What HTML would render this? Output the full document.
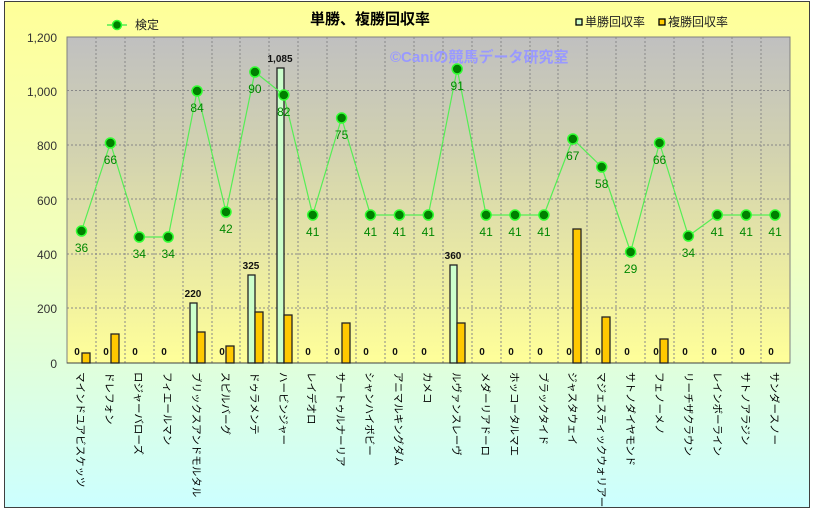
<!DOCTYPE html>
<html><head><meta charset="utf-8"><style>
html,body{margin:0;padding:0;background:#fff;}
svg{display:block;font-family:"Liberation Sans","Noto Sans CJK JP",sans-serif;}
</style></head><body>
<svg width="814" height="509" viewBox="0 0 814 509" xmlns="http://www.w3.org/2000/svg">
<defs>
<linearGradient id="outer" x1="0" y1="0" x2="0" y2="1"><stop offset="0" stop-color="#ffff99"/><stop offset="0.5" stop-color="#f0ffc0"/><stop offset="1" stop-color="#ccffff"/></linearGradient>
<linearGradient id="plot" x1="0" y1="0" x2="0" y2="1"><stop offset="0" stop-color="#c0c0c0"/><stop offset="0.35" stop-color="#d2d2b0"/><stop offset="1" stop-color="#ffff99"/></linearGradient>
</defs>
<rect x="4.5" y="1.5" width="805" height="506" fill="url(#outer)" stroke="#404040" stroke-width="1"/>
<rect x="67" y="37" width="723" height="326" fill="url(#plot)" stroke="#808080"/>
<g stroke="#888" stroke-dasharray="2,2" stroke-width="1">
<line x1="67" y1="90.5" x2="790" y2="90.5"/><line x1="67" y1="145" x2="790" y2="145"/><line x1="67" y1="199" x2="790" y2="199"/><line x1="67" y1="254" x2="790" y2="254"/><line x1="67" y1="308" x2="790" y2="308"/>
<line x1="96" y1="37" x2="96" y2="363"/><line x1="125" y1="37" x2="125" y2="363"/><line x1="154" y1="37" x2="154" y2="363"/><line x1="183" y1="37" x2="183" y2="363"/><line x1="212" y1="37" x2="212" y2="363"/><line x1="240" y1="37" x2="240" y2="363"/><line x1="269" y1="37" x2="269" y2="363"/><line x1="298" y1="37" x2="298" y2="363"/><line x1="327" y1="37" x2="327" y2="363"/><line x1="356" y1="37" x2="356" y2="363"/><line x1="385" y1="37" x2="385" y2="363"/><line x1="414" y1="37" x2="414" y2="363"/><line x1="443" y1="37" x2="443" y2="363"/><line x1="472" y1="37" x2="472" y2="363"/><line x1="501" y1="37" x2="501" y2="363"/><line x1="530" y1="37" x2="530" y2="363"/><line x1="558" y1="37" x2="558" y2="363"/><line x1="587" y1="37" x2="587" y2="363"/><line x1="616" y1="37" x2="616" y2="363"/><line x1="645" y1="37" x2="645" y2="363"/><line x1="674" y1="37" x2="674" y2="363"/><line x1="703" y1="37" x2="703" y2="363"/><line x1="732" y1="37" x2="732" y2="363"/><line x1="761" y1="37" x2="761" y2="363"/>
</g>
<line x1="67" y1="363" x2="790" y2="363" stroke="#404040"/>
<g font-size="12" fill="#333" text-anchor="end">
<text x="57" y="42">1,200</text><text x="57" y="96">1,000</text><text x="57" y="150">800</text><text x="57" y="205">600</text><text x="57" y="259">400</text><text x="57" y="313">200</text><text x="57" y="368">0</text>
</g>
<text x="370" y="24" font-size="15" font-weight="bold" text-anchor="middle" fill="#000">単勝、複勝回収率</text>
<text x="390" y="62" font-size="15" font-weight="bold" fill="#9999ff">©Caniの競馬データ研究室</text>
<line x1="107" y1="25" x2="127" y2="25" stroke="#55ee55" stroke-width="1.5"/><circle cx="117" cy="25" r="4.5" fill="#008000" stroke="#33ff33" stroke-width="1.5"/>
<text x="135" y="29" font-size="12" fill="#222">検定</text>
<rect x="576" y="19" width="6" height="6" fill="#ccffcc" stroke="#000" stroke-width="1.3"/><text x="585" y="26" font-size="12" fill="#222">単勝回収率</text>
<rect x="659" y="19" width="6" height="6" fill="#ffcc00" stroke="#000" stroke-width="1.3"/><text x="668" y="26" font-size="12" fill="#222">複勝回収率</text>
<g stroke="#222" stroke-width="1.3">
<rect x="190" y="303" width="7" height="60" fill="#ccffcc"/>
<rect x="248" y="275" width="7" height="88" fill="#ccffcc"/>
<rect x="277" y="68" width="7" height="295" fill="#ccffcc"/>
<rect x="450" y="265" width="7" height="98" fill="#ccffcc"/>
<g fill="#ffc800">
<rect x="82" y="353" width="8" height="10"/>
<rect x="111" y="334" width="8" height="29"/>
<rect x="197" y="332" width="8" height="31"/>
<rect x="226" y="346" width="8" height="17"/>
<rect x="255" y="312" width="8" height="51"/>
<rect x="284" y="315" width="8" height="48"/>
<rect x="342" y="323" width="8" height="40"/>
<rect x="457" y="323" width="8" height="40"/>
<rect x="573" y="229" width="8" height="134"/>
<rect x="602" y="317" width="8" height="46"/>
<rect x="660" y="339" width="8" height="24"/>
</g></g>
<g font-size="10" font-weight="bold" fill="#111" text-anchor="middle">
<text x="193" y="297">220</text><text x="251" y="269">325</text><text x="280" y="62">1,085</text><text x="453" y="259">360</text>
<text x="77" y="355">0</text><text x="106" y="355">0</text><text x="135" y="355">0</text><text x="164" y="355">0</text><text x="222" y="355">0</text><text x="308" y="355">0</text><text x="337" y="355">0</text><text x="366" y="355">0</text><text x="395" y="355">0</text><text x="424" y="355">0</text><text x="482" y="355">0</text><text x="511" y="355">0</text><text x="540" y="355">0</text><text x="569" y="355">0</text><text x="598" y="355">0</text><text x="627" y="355">0</text><text x="656" y="355">0</text><text x="685" y="355">0</text><text x="714" y="355">0</text><text x="742" y="355">0</text><text x="771" y="355">0</text>
</g>
<polyline fill="none" stroke="#55ee55" stroke-width="1.2" points="81.5,231 110.4,143 139.3,237 168.2,237 197.1,91 226,212 254.9,72 283.8,95 312.7,215 341.6,118 370.5,215 399.4,215 428.3,215 457.2,69 486.1,215 515,215 543.9,215 572.8,139 601.7,167 630.6,252 659.5,143 688.4,236 717.3,215 746.2,215 775.1,215"/>
<g fill="#008000" stroke="#33ff33" stroke-width="1.5">
<circle cx="81.5" cy="231" r="5"/><circle cx="110.4" cy="143" r="5"/><circle cx="139.3" cy="237" r="5"/><circle cx="168.2" cy="237" r="5"/><circle cx="197.1" cy="91" r="5"/><circle cx="226" cy="212" r="5"/><circle cx="254.9" cy="72" r="5"/><circle cx="283.8" cy="95" r="5"/><circle cx="312.7" cy="215" r="5"/><circle cx="341.6" cy="118" r="5"/><circle cx="370.5" cy="215" r="5"/><circle cx="399.4" cy="215" r="5"/><circle cx="428.3" cy="215" r="5"/><circle cx="457.2" cy="69" r="5"/><circle cx="486.1" cy="215" r="5"/><circle cx="515" cy="215" r="5"/><circle cx="543.9" cy="215" r="5"/><circle cx="572.8" cy="139" r="5"/><circle cx="601.7" cy="167" r="5"/><circle cx="630.6" cy="252" r="5"/><circle cx="659.5" cy="143" r="5"/><circle cx="688.4" cy="236" r="5"/><circle cx="717.3" cy="215" r="5"/><circle cx="746.2" cy="215" r="5"/><circle cx="775.1" cy="215" r="5"/>
</g>
<g font-size="12" fill="#008800" text-anchor="middle">
<text x="81.5" y="252">36</text><text x="110.4" y="164">66</text><text x="139.3" y="258">34</text><text x="168.2" y="258">34</text><text x="197.1" y="112">84</text><text x="226" y="233">42</text><text x="254.9" y="93">90</text><text x="283.8" y="116">82</text><text x="312.7" y="236">41</text><text x="341.6" y="139">75</text><text x="370.5" y="236">41</text><text x="399.4" y="236">41</text><text x="428.3" y="236">41</text><text x="457.2" y="90">91</text><text x="486.1" y="236">41</text><text x="515" y="236">41</text><text x="543.9" y="236">41</text><text x="572.8" y="160">67</text><text x="601.7" y="188">58</text><text x="630.6" y="273">29</text><text x="659.5" y="164">66</text><text x="688.4" y="257">34</text><text x="717.3" y="236">41</text><text x="746.2" y="236">41</text><text x="775.1" y="236">41</text>
</g>
<g font-size="10.5" fill="#000">
<text transform="translate(77,372) rotate(90)">マインドユアビスケッツ</text>
<text transform="translate(106,372) rotate(90)">ドレフォン</text>
<text transform="translate(135,372) rotate(90)">ロジャーバローズ</text>
<text transform="translate(164,372) rotate(90)">フィエールマン</text>
<text transform="translate(193,372) rotate(90)">ブリックスアンドモルタル</text>
<text transform="translate(222,372) rotate(90)">スピルバーグ</text>
<text transform="translate(251,372) rotate(90)">ドゥラメンテ</text>
<text transform="translate(280,372) rotate(90)">ハービンジャー</text>
<text transform="translate(308,372) rotate(90)">レイデオロ</text>
<text transform="translate(337,372) rotate(90)">サートゥルナーリア</text>
<text transform="translate(366,372) rotate(90)">シャンハイボビー</text>
<text transform="translate(395,372) rotate(90)">アニマルキングダム</text>
<text transform="translate(424,372) rotate(90)">カメコ</text>
<text transform="translate(453,372) rotate(90)">ルヴァンスレーヴ</text>
<text transform="translate(482,372) rotate(90)">メダーリアドーロ</text>
<text transform="translate(511,372) rotate(90)">ホッコータルマエ</text>
<text transform="translate(540,372) rotate(90)">ブラックタイド</text>
<text transform="translate(569,372) rotate(90)">ジャスタウェイ</text>
<text transform="translate(598,372) rotate(90)">マジェスティックウォリアー</text>
<text transform="translate(627,372) rotate(90)">サトノダイヤモンド</text>
<text transform="translate(656,372) rotate(90)">フェノーメノ</text>
<text transform="translate(685,372) rotate(90)">リーチザクラウン</text>
<text transform="translate(714,372) rotate(90)">レインボーライン</text>
<text transform="translate(742,372) rotate(90)">サトノアラジン</text>
<text transform="translate(771,372) rotate(90)">サンダースノー</text>
</g>
</svg>
</body></html>
